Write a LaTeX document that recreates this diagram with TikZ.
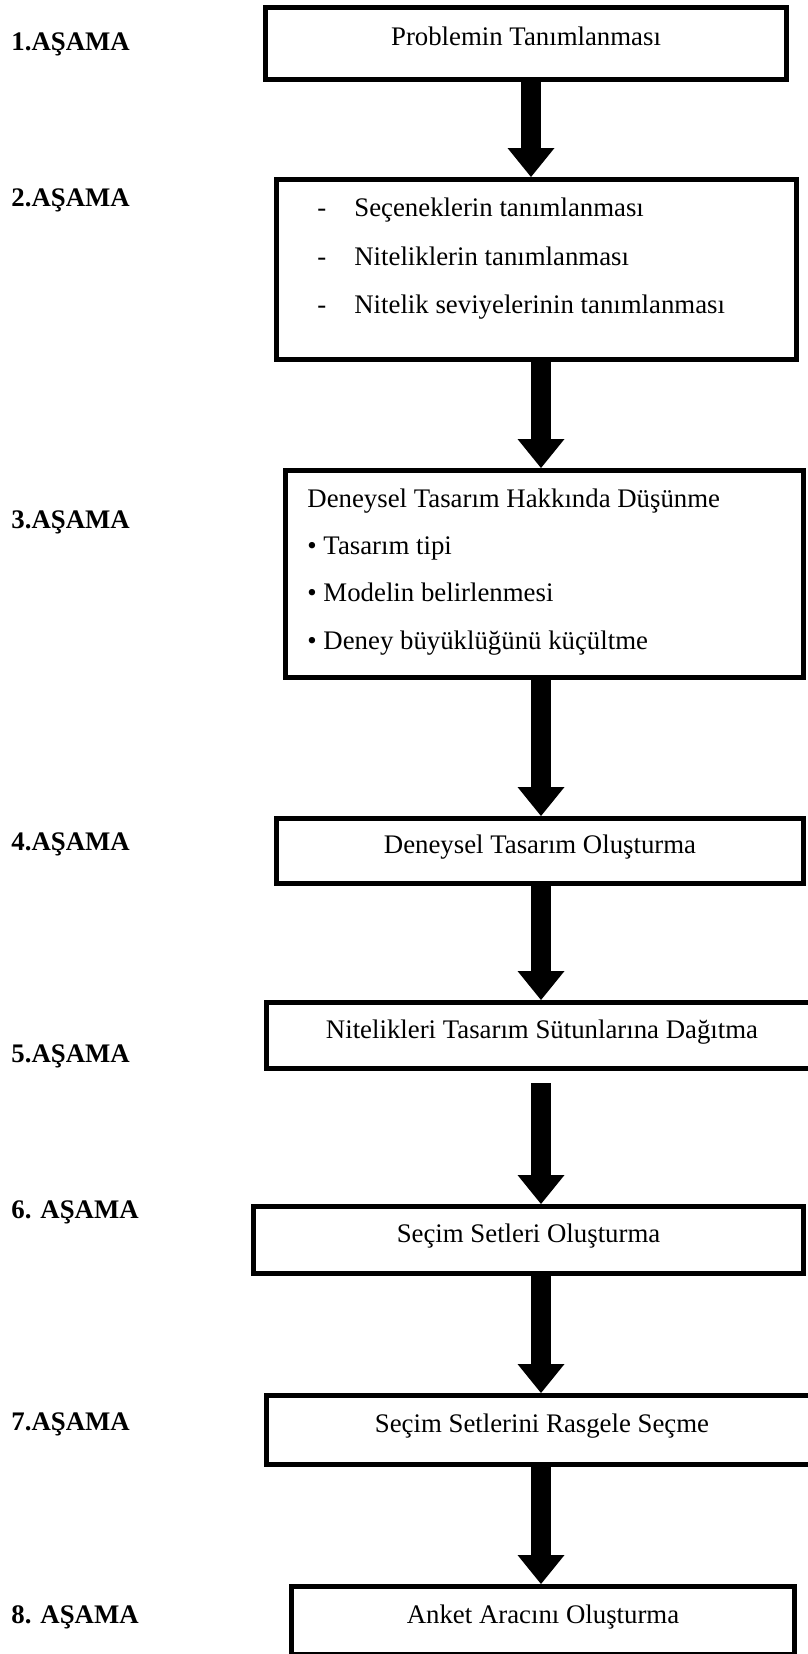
\documentclass[tikz,border=0pt]{standalone}
\usepackage{fontspec}
\setmainfont{Liberation Serif}
\usetikzlibrary{arrows.meta}

\begin{document}
\begin{tikzpicture}[x=0.5pt,y=-0.5pt,
    main box/.style={rectangle,draw,line width=2.5pt,inner sep=0pt,font=\fontsize{13.4}{16}\selectfont,text height=8pt,text depth=5.5pt},
    item/.style={anchor=base west,inner sep=0pt,font=\fontsize{13.4}{16}\selectfont},
    stage/.style={anchor=base west,inner sep=0pt,font=\fontsize{13.4}{16}\selectfont\bfseries},
    big arrow/.style={line width=10pt,-{Triangle[width=23.5pt,length=14.5pt,line width=0pt]}}]
                    \useasboundingbox (0,0) rectangle (808,1654);

                    \node[stage] (s1) at (11,50) {1.AŞAMA};
                    \node[stage] (s2) at (11,206) {2.AŞAMA};
                    \node[stage] (s3) at (11,528) {3.AŞAMA};
                    \node[stage] (s4) at (11,850) {4.AŞAMA};
                    \node[stage] (s5) at (11,1062) {5.AŞAMA};
                    \node[stage] (s6) at (11,1218) {6. AŞAMA};
                    \node[stage] (s7) at (11,1430) {7.AŞAMA};
                    \node[stage] (s8) at (11,1623) {8. AŞAMA};

                    \node[main box,minimum width=260.5pt,minimum height=36pt] (1) at (526,43.5) {Problemin Tanımlanması};
                    \node[main box,minimum width=260pt,minimum height=90pt] (2) at (536.5,269.5) {};
                    \node[main box,minimum width=259pt,minimum height=103.5pt] (3) at (544.5,574) {};
                    \node[main box,minimum width=263.5pt,minimum height=32.5pt] (4) at (540,851) {Deneysel Tasarım Oluşturma};
                    \node[main box,minimum width=275.5pt,minimum height=33pt] (5) at (542,1035.5) {Nitelikleri Tasarım Sütunlarına Dağıtma};
                    \node[main box,minimum width=275pt,minimum height=33.5pt] (6) at (528.5,1240) {Seçim Setleri Oluşturma};
                    \node[main box,minimum width=275.5pt,minimum height=34.5pt] (7) at (542,1430) {Seçim Setlerini Rasgele Seçme};
                    \node[main box,minimum width=251.5pt,minimum height=34pt] (8) at (543,1620.5) {Anket Aracını Oluşturma};

                    % box 2
                    \node[item] (d1) at (317,216) {\makebox[18.5pt][l]{-}Seçeneklerin tanımlanması};
                    \node[item] (d2) at (317,265) {\makebox[18.5pt][l]{-}Niteliklerin tanımlanması};
                    \node[item] (d3) at (317,313) {\makebox[18.5pt][l]{-}Nitelik seviyelerinin tanımlanması};

                    % box 3
                    \node[item] (e0) at (307,507) {Deneysel Tasarım Hakkında Düşünme};
                    \node[item] (e1) at (307,554) {• Tasarım tipi};
                    \node[item] (e2) at (307,601) {• Modelin belirlenmesi};
                    \node[item] (e3) at (307,649) {• Deney büyüklüğünü küçültme};

                    \coordinate (c1) at (531,0);
                    \coordinate (c) at (541,0);

                    \path[big arrow]
                            (1.south -| c1) edge (2.north -| c1)
                            (2.south -| c) edge (3.north -| c)
                            (3.south -| c) edge (4.north -| c)
                            (4.south -| c) edge (5.north -| c)
                            (5.south -| c) edge [shorten <=6pt] (6.north -| c)
                            (6.south -| c) edge (7.north -| c)
                            (7.south -| c) edge (8.north -| c)
                        ;
                \end{tikzpicture}
\end{document}
